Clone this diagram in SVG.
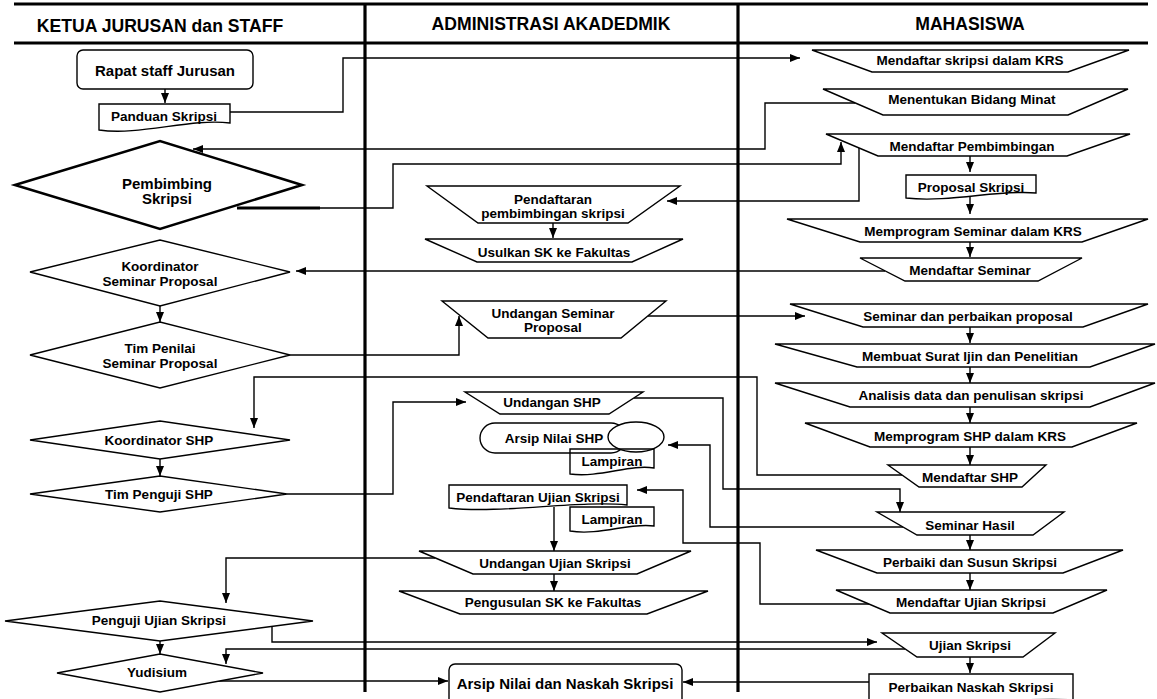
<svg xmlns="http://www.w3.org/2000/svg" width="1157" height="699" viewBox="0 0 1157 699">
<defs>
<marker id="ah" viewBox="0 0 10 8" refX="10" refY="4" markerWidth="10" markerHeight="8" markerUnits="userSpaceOnUse" orient="auto">
<path d="M0,0 L10,4 L0,8 Z" fill="#000"/>
</marker>
</defs>
<style>
text{font-family:"Liberation Sans",Arial,sans-serif;font-weight:bold;font-size:13.5px;text-anchor:middle;fill:#000}
.hd{font-size:17.6px}
.lg{font-size:15px}
.s{fill:#fff;stroke:#000;stroke-width:1.4}
.c{fill:none;stroke:#000;stroke-width:1.4}
.a{marker-end:url(#ah)}
.lane{stroke:#000;stroke-width:3.2;fill:none}
</style>
<rect x="0" y="0" width="1157" height="699" fill="#fff"/>
<g id="lanes">
<line class="lane" x1="14" y1="4" x2="1148" y2="4"/>
<line class="lane" x1="14" y1="43" x2="1148" y2="43"/>
<line class="lane" x1="365" y1="4" x2="365" y2="692"/>
<line class="lane" x1="738" y1="4" x2="738" y2="692"/>
<text class="hd" x="160" y="32">KETUA JURUSAN dan STAFF</text>
<text class="hd" x="551" y="30">ADMINISTRASI AKADEDMIK</text>
<text class="hd" x="970" y="30">MAHASISWA</text>
</g>
<g id="connectors">
<path class="c a" d="M165,89 V103"/>
<path class="c a" d="M230,112 H343 V58 H800"/>
<path class="c a" d="M855,103 H765 V149 H193"/>
<path d="M237,208 H320" stroke="#000" stroke-width="3" fill="none"/>
<path class="c a" d="M320,208 H393 V164 H841 V142"/>
<path class="c a" d="M859,148 V201 H667"/>
<path class="c a" d="M970,156 V172"/>
<path class="c a" d="M970,197 V214"/>
<path class="c a" d="M970,242 V257"/>
<path class="c a" d="M553,223 V238"/>
<path class="c a" d="M885,271 H296"/>
<path class="c a" d="M160,306 V322"/>
<path class="c a" d="M290,355 H459 V316"/>
<path class="c a" d="M648,316 H805"/>
<path class="c a" d="M970,327 V343"/>
<path class="c a" d="M970,367 V383"/>
<path class="c a" d="M970,407 V423"/>
<path class="c a" d="M970,447 V465"/>
<path class="c a" d="M902,475 H757 V377 H254 V428"/>
<path class="c a" d="M160,459 V476"/>
<path class="c a" d="M287,494 H393 V402 H466"/>
<path class="c a" d="M634,398 H723 V489 H900 V512"/>
<path class="c a" d="M903,527 H710 V445 H668"/>
<path class="c a" d="M970,535 V550"/>
<path class="c a" d="M970,573 V590"/>
<path class="c a" d="M869,604 H760 V543 H683 V490 H637"/>
<path class="c a" d="M554,507 V551"/>
<path class="c a" d="M554,574 V591"/>
<path class="c a" d="M435,558 H226 V603"/>
<path class="c a" d="M272,626 V642 H877"/>
<path class="c a" d="M160,641 V654"/>
<path class="c a" d="M905,649 H226 V664"/>
<path class="c a" d="M217,681 H448"/>
<path class="c a" d="M970,657 V673"/>
<path class="c a" d="M869,682 H683"/>
</g>
<g id="n-rapat"><rect class="s" x="77" y="50" width="176" height="39" rx="6"/><text class="lg" x="165" y="76">Rapat staff Jurusan</text></g>
<g id="n-panduan"><path class="s" d="M99,104 H230 V123 C190,118 140,136 99,130 Z"/><text x="164" y="121">Panduan Skripsi</text></g>
<g id="n-pembimbing"><polygon points="15,185 160,141 302,185 160,229" fill="#fff" stroke="#000" stroke-width="2.6"/><text class="lg" x="167" y="189">Pembimbing</text><text class="lg" x="167" y="204">Skripsi</text></g>
<g id="n-koordsp"><polygon class="s" points="30,272 160,240 290,272 160,306"/><text x="160" y="271">Koordinator</text><text x="160" y="286">Seminar Proposal</text></g>
<g id="n-timpenilai"><polygon class="s" points="30,355 160,322 290,355 160,388"/><text x="160" y="353">Tim Penilai</text><text x="160" y="368">Seminar Proposal</text></g>
<g id="n-koordshp"><polygon class="s" points="30,440 160,421 290,440 160,459"/><text x="159" y="445">Koordinator SHP</text></g>
<g id="n-timpenguji"><polygon class="s" points="30,494 160,476 287,494 160,512"/><text x="159" y="499">Tim Penguji SHP</text></g>
<g id="n-penguji"><polygon class="s" points="5,621 160,601 313,621 160,641"/><text x="159" y="625">Penguji Ujian Skripsi</text></g>
<g id="n-yudisium"><polygon class="s" points="57,673 160,654 263,673 160,692"/><text x="157" y="677">Yudisium</text></g>
<g id="n-pendpemb"><polygon class="s" points="427,186 680,186 628,223 478,223"/><text x="553" y="204">Pendaftaran</text><text x="553" y="218">pembimbingan skripsi</text></g>
<g id="n-usulkan"><polygon class="s" points="425,239 683,239 632,262 477,262"/><text x="554" y="257">Usulkan SK ke Fakultas</text></g>
<g id="n-undsp"><polygon class="s" points="442,301 666,301 621,338 488,338"/><text x="553" y="318">Undangan Seminar</text><text x="553" y="332">Proposal</text></g>
<g id="n-undshp"><polygon class="s" points="465,392 643,392 609,414 500,414"/><text x="552" y="407">Undangan SHP</text></g>
<g id="n-arsipshp"><rect class="s" x="480" y="423" width="146" height="30" rx="15"/><ellipse class="s" cx="636" cy="437" rx="28" ry="15"/><text x="554" y="443">Arsip Nilai SHP</text></g>
<g id="n-lamp1"><path class="c" d="M570,449 H654 V468 C630,464 600,478 570,474 Z"/><text x="612" y="466">Lampiran</text></g>
<g id="n-pendujian"><path class="s" d="M449,485 H627 V505 C580,500 500,514 449,508 Z"/><text x="538" y="502">Pendaftaran Ujian Skripsi</text></g>
<g id="n-lamp2"><path class="s" d="M570,507 H654 V526 C630,522 600,536 570,531 Z"/><text x="612" y="524">Lampiran</text></g>
<g id="n-undujian"><polygon class="s" points="419,551 691,551 637,574 473,574"/><text x="555" y="568">Undangan Ujian Skripsi</text></g>
<g id="n-pengusulan"><polygon class="s" points="399,591 708,591 647,614 460,614"/><text x="553" y="607">Pengusulan SK ke Fakultas</text></g>
<g id="n-arsipnaskah"><rect class="s" x="449" y="664" width="233" height="44" rx="6"/><text class="lg" x="565" y="689">Arsip Nilai dan Naskah Skripsi</text></g>
<g id="n-mkrs"><polygon class="s" points="812,50 1129,50 1068,72 872,72"/><text x="970" y="65">Mendaftar skripsi dalam KRS</text></g>
<g id="n-minat"><polygon class="s" points="823,89 1128,89 1068,115 883,115"/><text x="972" y="104">Menentukan Bidang Minat</text></g>
<g id="n-mpemb"><polygon class="s" points="826,134 1130,134 1067,156 878,156"/><text x="972" y="151">Mendaftar Pembimbingan</text></g>
<g id="n-proposal"><path class="s" d="M906,175 H1036 V193 C1000,189 950,203 906,198 Z"/><text x="971" y="192">Proposal Skripsi</text></g>
<g id="n-mpsem"><polygon class="s" points="787,219 1148,219 1082,242 860,242"/><text x="973" y="236">Memprogram Seminar dalam KRS</text></g>
<g id="n-msem"><polygon class="s" points="860,258 1082,258 1038,281 905,281"/><text x="970" y="275">Mendaftar Seminar</text></g>
<g id="n-sempp"><polygon class="s" points="790,304 1148,304 1083,327 863,327"/><text x="968" y="321">Seminar dan perbaikan proposal</text></g>
<g id="n-surat"><polygon class="s" points="775,344 1155,344 1090,367 857,367"/><text x="970" y="361">Membuat Surat Ijin dan Penelitian</text></g>
<g id="n-analisis"><polygon class="s" points="775,383 1155,383 1090,407 850,407"/><text x="971" y="400">Analisis data dan penulisan skripsi</text></g>
<g id="n-mpshp"><polygon class="s" points="805,423 1137,423 1072,447 870,447"/><text x="970" y="441">Memprogram SHP dalam KRS</text></g>
<g id="n-mshp"><polygon class="s" points="888,465 1046,465 1022,487 919,487"/><text x="970" y="482">Mendaftar SHP</text></g>
<g id="n-semhasil"><polygon class="s" points="877,512 1064,512 1033,535 917,535"/><text x="970" y="530">Seminar Hasil</text></g>
<g id="n-perbaiki"><polygon class="s" points="816,550 1123,550 1063,573 877,573"/><text x="970" y="567">Perbaiki dan Susun Skripsi</text></g>
<g id="n-mujian"><polygon class="s" points="836,590 1107,590 1053,613 890,613"/><text x="971" y="607">Mendaftar Ujian Skripsi</text></g>
<g id="n-ujian"><polygon class="s" points="882,633 1055,633 1023,657 917,657"/><text x="970" y="650">Ujian Skripsi</text></g>
<g id="n-perbnaskah"><path class="s" d="M869,674 H1073 V700 C1030,696 920,708 869,704 Z"/><text x="971" y="692">Perbaikan Naskah Skripsi</text></g>
</svg>
